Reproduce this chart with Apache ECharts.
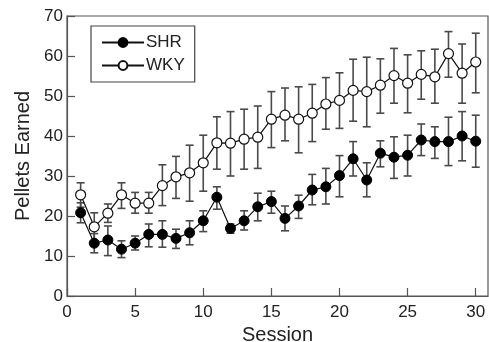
<!DOCTYPE html>
<html>
<head>
<meta charset="utf-8">
<script src="https://cdn.jsdelivr.net/npm/echarts@6/dist/echarts.min.js"></script>
<style>
  html, body { margin: 0; padding: 0; background: #fff; }
  #chart { width: 489px; height: 342px; }
</style>
</head>
<body>
<div id="chart"></div>
<script>
// sessions 1..30
const sessions = [1,2,3,4,5,6,7,8,9,10,11,12,13,14,15,16,17,18,19,20,21,22,23,24,25,26,27,28,29,30]

// SHR mean and error bar ends
const shrMean = [20.8,13.2,14.0,11.7,13.2,15.4,15.4,14.4,15.8,18.8,24.7,16.9,18.8,22.3,23.6,19.4,22.5,26.5,27.3,30.1,34.3,29.0,35.7,34.7,35.2,39.0,38.6,38.6,40.0,38.7]
const shrHi   = [23.3,15.6,17.5,13.8,15.0,18.0,18.8,16.7,18.8,21.3,27.3,18.0,21.3,25.7,26.2,22.5,25.2,30.4,31.9,35.1,38.6,33.3,38.8,39.8,40.2,43.0,42.3,44.7,46.1,45.2]
const shrLo   = [18.3,10.8,10.1,9.6,11.5,12.3,12.2,11.9,12.8,16.1,21.7,15.7,16.5,18.8,20.7,16.3,19.4,22.8,23.0,24.8,30.0,24.8,32.3,29.4,30.0,35.1,34.4,32.6,33.8,32.2]

// WKY mean and error bar ends
const wkyMean = [25.3,17.3,20.7,25.3,23.2,23.2,27.6,29.8,30.8,33.3,38.3,38.2,39.2,39.7,44.2,45.2,44.2,45.7,48.0,48.9,51.4,51.1,52.7,55.1,53.2,55.4,54.8,60.6,55.7,58.5]
const wkyHi   = [28.3,20.8,23.0,28.3,25.9,25.9,32.8,34.9,37.7,40.2,44.8,46.1,46.7,47.5,51.1,52.0,52.3,52.9,54.6,55.8,59.2,59.7,59.3,61.9,60.3,61.3,61.7,66.1,63.0,65.7]
const wkyLo   = [22.2,13.8,18.4,21.9,20.7,20.7,22.6,24.4,23.7,26.2,31.7,30.0,31.7,31.9,37.1,38.8,35.8,38.6,41.7,41.9,43.7,42.3,45.7,48.2,45.8,49.2,48.2,54.7,48.2,50.8]

const xTicks = [0, 5, 10, 15, 20, 25, 30]

const chart = echarts.init(document.getElementById('chart'))

const errData = (lo, hi) => sessions.map((s, i) => [s, lo[i], hi[i]])

const renderErr = (params, api) => {
  const x = api.value(0)
  const top = api.coord([x, api.value(2)])
  const bot = api.coord([x, api.value(1)])
  const cap = 4
  const style = { stroke: '#4a4a4a', lineWidth: 1.6 }
  return {
    type: 'group',
    children: [
      { type: 'line', shape: { x1: top[0], y1: top[1], x2: bot[0], y2: bot[1] }, style },
      { type: 'line', shape: { x1: top[0] - cap, y1: top[1], x2: top[0] + cap, y2: top[1] }, style },
      { type: 'line', shape: { x1: bot[0] - cap, y1: bot[1], x2: bot[0] + cap, y2: bot[1] }, style },
    ],
  }
}

const textFont = 'Liberation Sans'

const option = {
  animation: false,
  grid: {
    left: 67, top: 16, right: 1, bottom: 46,
    outerBoundsMode: 'none',
    show: true, borderColor: '#555', borderWidth: 1.2,
  },
  legend: {
    left: 91, top: 26,
    orient: 'vertical',
    data: ['SHR', 'WKY'],
    itemWidth: 42, itemHeight: 11, itemGap: 6,
    padding: [8, 10, 8, 10],
    borderColor: '#444', borderWidth: 1.2,
    textStyle: { fontFamily: textFont, fontSize: 17, color: '#222', padding: [0, 0, 0, -3] },
  },
  xAxis: {
    type: 'value', min: 0, max: 30.9,
    name: 'Session', nameLocation: 'middle', nameGap: 29,
    nameTextStyle: { fontFamily: textFont, fontSize: 20, color: '#222' },
    axisLine: { show: true, lineStyle: { color: '#555', width: 1.2 } },
    axisTick: { show: true, inside: true, length: 8, customValues: xTicks, lineStyle: { color: '#555', width: 1.2 } },
    axisLabel: { customValues: xTicks, fontFamily: textFont, fontSize: 17, color: '#222', margin: 8 },
    splitLine: { show: false },
  },
  yAxis: {
    type: 'value', min: 0, max: 70, interval: 10,
    name: 'Pellets Earned', nameLocation: 'middle', nameGap: 33,
    nameTextStyle: { fontFamily: textFont, fontSize: 20, color: '#222' },
    axisLine: { show: true, lineStyle: { color: '#555', width: 1.2 } },
    axisTick: { show: true, inside: true, length: 8, lineStyle: { color: '#555', width: 1.2 } },
    axisLabel: { fontFamily: textFont, fontSize: 17, color: '#222', margin: 4 },
    splitLine: { show: false },
  },
  series: [
    {
      name: 'WKY err', type: 'custom', renderItem: renderErr,
      data: errData(wkyLo, wkyHi), z: 1, silent: true,
    },
    {
      name: 'SHR err', type: 'custom', renderItem: renderErr,
      data: errData(shrLo, shrHi), z: 1, silent: true,
    },
    {
      name: 'SHR', type: 'line',
      data: sessions.map((s, i) => [s, shrMean[i]]),
      symbol: 'circle', symbolSize: 10, z: 3,
      lineStyle: { color: '#111', width: 1.2 },
      itemStyle: { color: '#000', borderColor: '#000', borderWidth: 1 },
    },
    {
      name: 'WKY', type: 'line',
      data: sessions.map((s, i) => [s, wkyMean[i]]),
      symbol: 'circle', symbolSize: 10, z: 3,
      lineStyle: { color: '#111', width: 1.2 },
      itemStyle: { color: '#fff', borderColor: '#111', borderWidth: 1.2 },
    },
  ],
}

chart.setOption(option)
</script>
</body>
</html>
